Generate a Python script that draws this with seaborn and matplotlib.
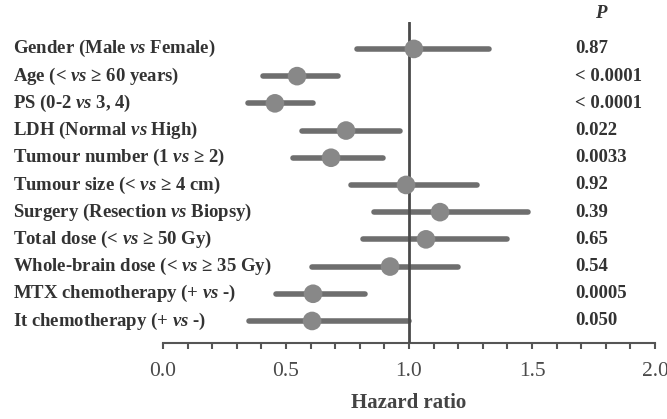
import matplotlib
matplotlib.use("Agg")
import matplotlib.pyplot as plt
import matplotlib.transforms as mtransforms
from matplotlib.ticker import MultipleLocator
import seaborn as sns
import pandas as pd

categories = [
    r"Gender (Male $\mathit{vs}$ Female)",
    r"Age (< $\mathit{vs}$ ≥ 60 years)",
    r"PS (0-2 $\mathit{vs}$ 3, 4)",
    r"LDH (Normal $\mathit{vs}$ High)",
    r"Tumour number (1 $\mathit{vs}$ ≥ 2)",
    r"Tumour size (< $\mathit{vs}$ ≥ 4 cm)",
    r"Surgery (Resection $\mathit{vs}$ Biopsy)",
    r"Total dose (< $\mathit{vs}$ ≥ 50 Gy)",
    r"Whole-brain dose (< $\mathit{vs}$ ≥ 35 Gy)",
    r"MTX chemotherapy (+ $\mathit{vs}$ -)",
    r"It chemotherapy (+ $\mathit{vs}$ -)",
]
hr = [1.02, 0.545, 0.455, 0.744, 0.683, 0.988, 1.126, 1.069, 0.923, 0.61, 0.606]
ci_low = [0.787, 0.407, 0.346, 0.565, 0.53, 0.764, 0.858, 0.813, 0.606, 0.46, 0.35]
ci_high = [1.325, 0.71, 0.61, 0.963, 0.894, 1.276, 1.484, 1.398, 1.2, 0.821, 1.0]
p_values = ["0.87", "< 0.0001", "< 0.0001", "0.022", "0.0033", "0.92",
            "0.39", "0.65", "0.54", "0.0005", "0.050"]
x_ticks = [0.0, 0.5, 1.0, 1.5, 2.0]

sns.set_style("white")
plt.rcParams["font.family"] = ["Liberation Serif", "DejaVu Serif"]
plt.rcParams["mathtext.fontset"] = "custom"
plt.rcParams["mathtext.it"] = "Liberation Serif:italic:bold"
plt.rcParams["mathtext.rm"] = "Liberation Serif:bold"

df = pd.DataFrame({"label": categories, "hr": hr, "lo": ci_low, "hi": ci_high,
                   "p": p_values})
df["row"] = range(len(df))

fig = plt.figure(figsize=(6.67, 4.19), dpi=100)
ax = fig.add_axes([163 / 667, 1 - 343 / 419, (655 - 163) / 667, (343 - 22) / 419])

line_col = "#6e6e6e"
ax.hlines(df["row"], df["lo"], df["hi"], color=line_col, lw=4, capstyle="round", zorder=2)
ax.axvline(1.0, color="#4a4a4a", lw=2, zorder=3)
sns.scatterplot(data=df, x="hr", y="row", ax=ax, s=180, color="#888888",
                edgecolor="none", zorder=4, legend=False)

ax.set_xlim(0, 2)
ax.set_ylim(len(df) - 0.19, -0.99)
ax.set_yticks([])
ax.set_ylabel("")
ax.set_xticks(x_ticks)
ax.set_xticklabels([f"{t:.1f}" for t in x_ticks], fontsize=15.5, color="#4a4a4a")
ax.xaxis.set_minor_locator(MultipleLocator(0.1))
ax.tick_params(axis="x", which="both", direction="out", length=4, width=1.5,
               color="#555555", bottom=True, pad=10)
ax.set_xlabel("Hazard ratio", fontsize=15, fontweight="bold", color="#444444",
              labelpad=8)
for s in ["left", "top", "right"]:
    ax.spines[s].set_visible(False)
ax.spines["bottom"].set_color("#555555")
ax.spines["bottom"].set_linewidth(1.5)

trans = mtransforms.blended_transform_factory(fig.transFigure, ax.transData)
for i, r in df.iterrows():
    ax.text(13 / 667, r["row"], r["label"], transform=trans, ha="left", va="center",
            fontsize=13.5, fontweight="bold", color="#333333")
    ax.text(575 / 667, r["row"], r["p"], transform=trans, ha="left", va="center",
            fontsize=13.5, fontweight="bold", color="#333333")
fig.text(601 / 667, 1 - 13 / 419, "P", ha="center", va="center", fontsize=13.5,
         fontweight="bold", fontstyle="italic", color="#333333")

fig.savefig("out.png", dpi=100)
